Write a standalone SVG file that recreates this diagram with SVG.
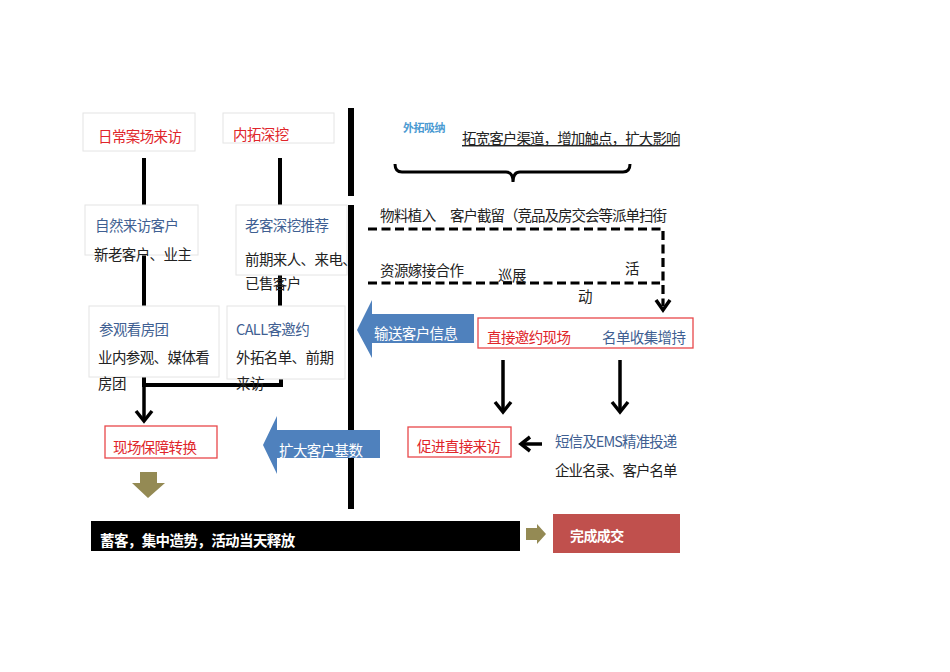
<svg xmlns="http://www.w3.org/2000/svg" width="950" height="672" viewBox="0 0 950 672">
<defs>
<style>
text{font-family:"Noto Sans CJK SC","Liberation Sans",sans-serif;font-size:14.5px;letter-spacing:-0.6px}
.box{fill:#fff;stroke:#e4e4e4;stroke-width:1}
.rbox{fill:#fff;stroke:#e8484a;stroke-width:1.3}
.red{fill:#e0252a}
.title{fill:#3f5f92}
.body{fill:#222}
.white{fill:#fff}
.bold{font-weight:bold}
.line{stroke:#000;stroke-width:4;fill:none}
.arr{stroke:#000;stroke-width:3.5;fill:none;stroke-linejoin:miter}
.dash{stroke:#000;stroke-width:3.2;fill:none;stroke-dasharray:9 4.5}
.blue{fill:#4f81bd}
.olive{fill:#948a54}
</style>
</defs>
<rect width="950" height="672" fill="#fff"/>

<g id="connectors">
  <!-- main divider -->
  <rect x="348" y="108" width="6" height="88" fill="#000"/>
  <rect x="348" y="205" width="6" height="304" fill="#000"/>
  <!-- left column links -->
  <line class="line" x1="144" y1="158" x2="144" y2="205"/>
  <line class="line" x1="280" y1="158" x2="280" y2="205"/>
  <line class="line" x1="144" y1="255" x2="144" y2="306"/>
  <line class="line" x1="280" y1="275" x2="280" y2="306"/>
  <polyline class="line" points="144,377 144,385 281,385 281,378"/>
  <line class="arr" x1="144" y1="385" x2="144" y2="421"/>
  <polyline class="arr" points="136,411 144,421 152,411"/>
  <!-- brace -->
  <path d="M395,164 Q395,172 402,172 L506,172 Q513,172 513,182 Q513,172 520,172 L623,172 Q630,172 630,164" stroke="#000" stroke-width="3" fill="none"/>
  <!-- dashed loop -->
  <polyline class="dash" points="368,229 663,229 663,306"/>
  <line class="dash" x1="368" y1="283" x2="660" y2="283"/>
  <polyline class="arr" points="656,300 663,310 670,300"/>
  <!-- right column arrows -->
  <line class="arr" x1="503" y1="360" x2="503" y2="412"/>
  <polyline class="arr" points="495,402 503,412 511,402"/>
  <line class="arr" x1="620" y1="360" x2="620" y2="412"/>
  <polyline class="arr" points="612,402 620,412 628,402"/>
  <line class="arr" x1="542" y1="444" x2="521" y2="444"/>
  <polyline class="arr" points="530,437 521,444 530,451"/>
  <!-- olive arrows -->
  <polygon class="olive" points="140,472 157,472 157,483 165,483 148,498 132,483 140,483"/>
  <polygon class="olive" points="526,528 537,528 537,524 546,534 537,544 537,540 526,540"/>
</g>

<g id="node-richang">
  <rect class="box" x="83" y="113" width="112" height="38"/>
  <text class="red" x="98" y="142">日常案场来访</text>
</g>
<g id="node-neituo">
  <rect class="box" x="223" y="113" width="111" height="30"/>
  <text class="red" x="233" y="140">内拓深挖</text>
</g>
<g id="node-ziran">
  <rect class="box" x="85" y="205" width="113" height="50"/>
  <text class="title" x="95" y="231">自然来访客户</text>
  <text class="body" x="94" y="260">新老客户、业主</text>
</g>
<g id="node-laoke">
  <rect class="box" x="236" y="205" width="111" height="70"/>
  <text class="title" x="245" y="231">老客深挖推荐</text>
  <text class="body" x="245" y="265">前期来人、来电、</text>
  <text class="body" x="245" y="289">已售客户</text>
</g>
<g id="node-canguan">
  <rect class="box" x="89" y="306" width="130" height="71"/>
  <text class="title" x="99" y="335">参观看房团</text>
  <text class="body" x="98" y="363">业内参观、媒体看</text>
  <text class="body" x="98" y="389">房团</text>
</g>
<g id="node-call">
  <rect class="box" x="227" y="306" width="118" height="73"/>
  <text class="title" x="236" y="335">CALL客邀约</text>
  <text class="body" x="236" y="363">外拓名单、前期</text>
  <text class="body" x="236" y="389">来访</text>
</g>
<g id="node-xianchang">
  <rect class="rbox" x="105" y="426" width="112" height="32"/>
  <text class="red" x="113" y="453">现场保障转换</text>
</g>
<g id="node-kuoda">
  <polygon class="blue" points="263,445 277,416 277,430 380,430 380,458 277,458 277,474"/>
  <text class="white" x="279" y="456">扩大客户基数</text>
</g>

<g id="node-waituo">
  <text x="403" y="132" fill="#4a9ad2" class="bold" style="font-size:11px;letter-spacing:-0.5px">外拓吸纳</text>
  <text class="body" x="462" y="144" style="text-decoration:underline;letter-spacing:-0.9px">拓宽客户渠道，增加触点，扩大影响</text>
</g>
<g id="node-wuliao">
  <text class="body" x="380" y="221">物料植入</text>
  <text class="body" x="450" y="221" style="letter-spacing:-1px">客户截留（竞品及房交会等派单扫街</text>
</g>
<g id="node-ziyuan">
  <text class="body" x="380" y="276">资源嫁接合作</text>
  <text class="body" x="498" y="281">巡展</text>
  <text class="body" x="625" y="274">活</text>
  <text class="body" x="578" y="302">动</text>
</g>
<g id="node-shusong">
  <polygon class="blue" points="357,330 372,300 372,314 474,314 474,343 372,343 372,358"/>
  <text class="white" x="374" y="339">输送客户信息</text>
</g>
<g id="node-zhijie">
  <rect class="rbox" x="478" y="318" width="215" height="30"/>
  <text class="red" x="487" y="343">直接邀约现场</text>
  <text class="title" x="602" y="343">名单收集增持</text>
</g>
<g id="node-cujin">
  <rect class="rbox" x="408" y="427" width="103" height="30"/>
  <text class="red" x="417" y="452">促进直接来访</text>
</g>
<g id="node-duanxin">
  <text class="title" x="555" y="447" style="letter-spacing:-0.9px">短信及EMS精准投递</text>
  <text class="body" x="555" y="476" style="letter-spacing:-1px">企业名录、客户名单</text>
</g>

<g id="node-xuke">
  <rect x="91" y="521" width="429" height="30" fill="#000"/>
  <text class="white bold" x="100" y="546">蓄客，集中造势，活动当天释放</text>
</g>
<g id="node-chengjiao">
  <rect x="553" y="514" width="127" height="39" fill="#c0504d"/>
  <text class="white bold" x="570" y="541" style="font-size:14px">完成成交</text>
</g>
</svg>
